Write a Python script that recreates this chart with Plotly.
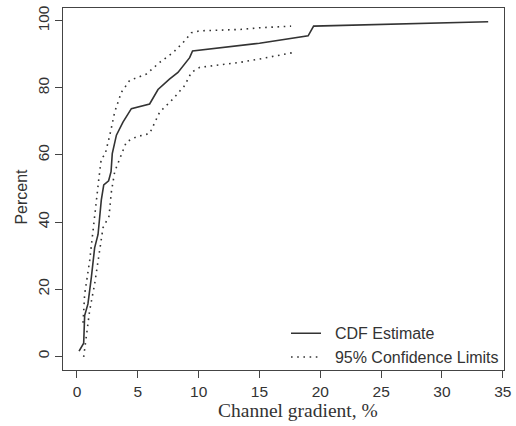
import plotly.graph_objects as go

# CDF estimate
cdf_x = [0.17, 0.55, 0.63, 0.9, 1.18, 1.45, 1.73, 1.87, 2.0, 2.2, 2.6, 2.8, 2.9, 3.24, 3.78, 4.47, 5.97, 6.66, 7.6, 8.3, 8.85, 9.26, 9.5, 13.4, 15.0, 19.0, 19.45, 33.8]
cdf_y = [1.5, 3.9, 12.1, 15.6, 23.5, 32.3, 36.3, 41.2, 46.6, 51.1, 52.3, 55.0, 60.4, 65.9, 69.8, 73.8, 75.2, 79.5, 82.6, 84.6, 87.1, 89.0, 91.0, 92.5, 93.3, 95.5, 98.4, 99.7]

# Upper 95% confidence limit
up_x = [0.5, 0.63, 1.04, 1.31, 1.59, 1.8, 2.0, 2.3, 2.7, 3.1, 3.65, 4.33, 5.7, 6.8, 7.9, 8.85, 9.4, 10.1, 13.4, 15.0, 17.6]
up_y = [10.0, 18.5, 28.4, 36.3, 46.2, 53.0, 59.0, 60.0, 65.9, 72.8, 78.7, 82.2, 84.1, 87.6, 90.5, 94.0, 96.4, 97.0, 97.4, 97.9, 98.4]

# Lower 95% confidence limit
lo_x = [0.55, 0.77, 1.04, 1.45, 1.8, 2.14, 2.63, 2.83, 3.1, 3.78, 4.06, 4.88, 5.97, 6.8, 7.9, 8.85, 9.4, 10.1, 13.4, 15.0, 17.75]
lo_y = [-0.2, 5.7, 13.6, 21.5, 29.4, 38.3, 41.7, 49.1, 55.0, 61.0, 63.9, 65.4, 66.4, 72.8, 76.7, 80.7, 84.6, 86.1, 87.6, 88.6, 90.5]

x_ticks = [0, 5, 10, 15, 20, 25, 30, 35]
y_ticks = [0, 20, 40, 60, 80, 100]

line_col = "#333333"
dot_style = "1.6px,4.6px"
sans = "Liberation Sans, Arial"

fig = go.Figure()
fig.add_trace(go.Scatter(x=cdf_x, y=cdf_y, mode="lines", name="\u00a0\u00a0CDF Estimate",
                         line=dict(color=line_col, width=1.6)))
fig.add_trace(go.Scatter(x=lo_x, y=lo_y, mode="lines", name="\u00a0\u00a095% Confidence Limits",
                         line=dict(color=line_col, width=1.6, dash=dot_style)))
fig.add_trace(go.Scatter(x=up_x, y=up_y, mode="lines", name="upper", showlegend=False,
                         line=dict(color=line_col, width=1.6, dash=dot_style)))

axis_common = dict(showgrid=False, zeroline=False, showline=True, mirror=True,
                   linecolor="#444444", linewidth=1.3, ticks="outside", ticklen=7,
                   tickcolor="#444444", tickwidth=1.2,
                   tickfont=dict(family=sans, size=15.5, color="#333333"))

fig.update_layout(
    width=516, height=426,
    margin=dict(l=63, r=11, t=5, b=56),
    plot_bgcolor="white", paper_bgcolor="white",
    xaxis=dict(range=[-1.15, 35.1], tickvals=x_ticks, **axis_common),
    yaxis=dict(range=[-4.1, 103.8], tickvals=y_ticks, tickangle=-90, **axis_common),
    legend=dict(x=1.0, y=-0.012, xanchor="right", yanchor="bottom",
                bgcolor="rgba(0,0,0,0)", tracegroupgap=0, itemwidth=30,
                font=dict(family=sans, size=16, color="#333333")),
    showlegend=True,
    annotations=[
        dict(text="Channel gradient, %", xref="paper", yref="paper",
             x=0.532, y=-0.112, xanchor="center", yanchor="middle", showarrow=False,
             font=dict(family="Liberation Serif, Times New Roman", size=19.5, color="#333333")),
        dict(text="Percent", xref="paper", yref="paper", textangle=-90,
             x=-0.093, y=0.479, xanchor="center", yanchor="middle", showarrow=False,
             font=dict(family=sans, size=16, color="#333333")),
    ],
)

fig.write_html("out.html")
